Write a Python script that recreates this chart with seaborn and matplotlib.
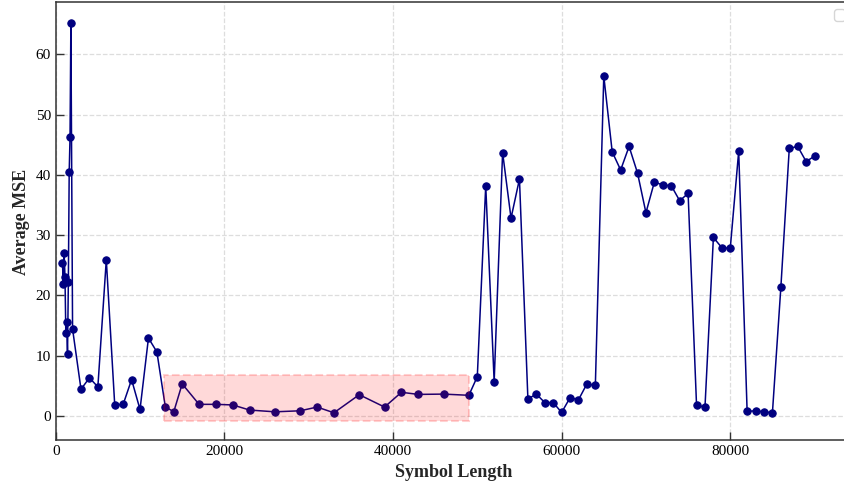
import matplotlib
matplotlib.use('Agg')
import matplotlib.pyplot as plt
import matplotlib.patches as mpatches
import pandas as pd
import seaborn as sns
import warnings
warnings.filterwarnings('ignore')

# ==================== Data ====================
symbol_length = [800, 900, 1000, 1100, 1200, 1300, 1400, 1500, 1600, 1700, 1800, 2000,
                 3000, 4000, 5000, 6000, 7000, 8000, 9000, 10000, 11000, 12000,
                 13000, 14000, 15000, 17000, 19000, 21000, 23000, 26000, 29000, 31000,
                 33000, 36000, 39000, 41000, 43000, 46000, 49000, 50000,
                 51000, 52000, 53000, 54000, 55000, 56000, 57000, 58000, 59000, 60000,
                 61000, 62000, 63000, 64000, 65000, 66000, 67000, 68000, 69000, 70000,
                 71000, 72000, 73000, 74000, 75000, 76000, 77000, 78000, 79000, 80000,
                 81000, 82000, 83000, 84000, 85000, 86000, 87000, 88000, 89000, 90000]
avg_mse = [25.4, 21.8, 27.0, 23.1, 13.7, 15.5, 10.2, 22.2, 40.4, 46.3, 65.2, 14.4,
           4.4, 6.3, 4.8, 25.9, 1.8, 1.9, 6.0, 1.05, 12.9, 10.6,
           1.5, 0.66, 5.3, 1.9, 1.9, 1.8, 0.95, 0.66, 0.83, 1.45,
           0.5, 3.5, 1.45, 3.9, 3.55, 3.6, 3.4, 6.5,
           38.2, 5.65, 43.7, 32.8, 39.3, 2.8, 3.6, 2.2, 2.2, 0.55,
           3.0, 2.66, 5.3, 5.05, 56.4, 43.8, 40.8, 44.7, 40.3, 33.7,
           38.8, 38.3, 38.2, 35.7, 36.9, 1.8, 1.4, 29.6, 27.9, 27.8,
           43.9, 0.73, 0.83, 0.66, 0.5, 21.3, 44.4, 44.7, 42.2, 43.1]

# stable region highlight
region_x = [12900, 49000]
region_y = [-0.8, 6.8]

df = pd.DataFrame({'symbol_length': symbol_length, 'avg_mse': avg_mse})

# ==================== Style ====================
sns.set_style("ticks")
plt.rcParams['font.family'] = ['Liberation Serif', 'DejaVu Serif']
plt.rcParams['axes.unicode_minus'] = False

fig = plt.figure(figsize=(8.44, 4.87), dpi=100)
ax = fig.add_axes([0.066, 0.0955, 0.9437, 0.8994])

sns.lineplot(data=df, x='symbol_length', y='avg_mse', ax=ax, color='navy',
             marker='o', markersize=5.3, markeredgecolor='navy', linewidth=1.1)

rect = mpatches.Rectangle((region_x[0], region_y[0]), region_x[1] - region_x[0],
                          region_y[1] - region_y[0], facecolor=(1, 0, 0, 0.15),
                          edgecolor=(1, 0, 0, 0.18), linestyle='--', linewidth=1.5,
                          zorder=3)
ax.add_patch(rect)

ax.set_xlim(0, 94460)
ax.set_ylim(-4.1, 68.6)
ax.set_xticks([0, 20000, 40000, 60000, 80000])
ax.set_yticks([0, 10, 20, 30, 40, 50, 60])
ax.grid(True, linestyle='--', color='#dddddd', linewidth=0.9)
ax.set_axisbelow(True)

ax.set_xlabel('Symbol Length', fontsize=13, fontweight='bold')
ax.set_ylabel('Average MSE', fontsize=13, fontweight='bold')
ax.tick_params(direction='in', length=5.5, width=1, labelsize=11,
               color='#333333', labelcolor='black')
for s in ax.spines.values():
    s.set_color('#333333')
    s.set_linewidth(1.1)
ax.spines['right'].set_visible(False)

ax.legend(loc='upper right')

plt.savefig('out.png', dpi=100)
